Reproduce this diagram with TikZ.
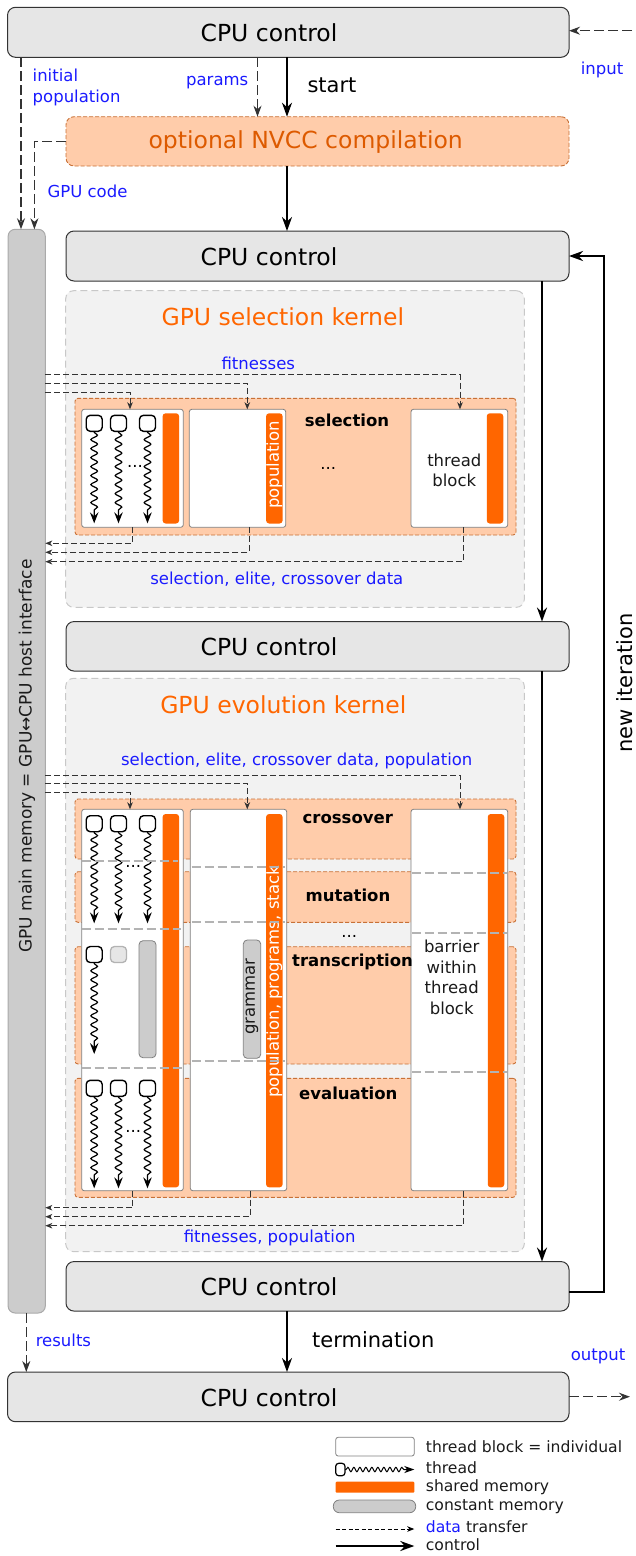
\documentclass[tikz,border=0pt]{standalone}
\usepackage{fontspec}
\setmainfont{DejaVu Sans}
\usetikzlibrary{arrows.meta,decorations.pathmorphing}
\definecolor{cpufill}{HTML}{E6E6E6}
\definecolor{cpuline}{HTML}{333333}
\definecolor{memfill}{HTML}{CCCCCC}
\definecolor{memline}{HTML}{AAAAAA}
\definecolor{panfill}{HTML}{F2F2F2}
\definecolor{panline}{HTML}{C8C8C8}
\definecolor{ofill}{HTML}{FFCCAA}
\definecolor{oline}{HTML}{C87137}
\definecolor{obar}{HTML}{FF6600}
\definecolor{otext}{HTML}{FF6600}
\definecolor{ntext}{HTML}{DD5A00}
\definecolor{dtext}{HTML}{1A1AFF}
\definecolor{dline}{HTML}{333333}
\definecolor{sepcol}{HTML}{B3B3B3}
\definecolor{blkline}{HTML}{808080}
\definecolor{txt}{HTML}{1A1A1A}
\newcommand\szBig{\fontsize{23.5}{28}\selectfont}
\newcommand\szMid{\fontsize{21}{25}\selectfont}
\newcommand\szLab{\fontsize{16.5}{20.7}\selectfont}
\newcommand\szLeg{\fontsize{15.6}{18}\selectfont}
\newcommand\szMem{\fontsize{17}{20}\selectfont}
\begin{document}
\begin{tikzpicture}[x=1pt,y=-1pt,
  box/.style={outer sep=0pt, inner sep=0pt},
  cpubox/.style={box, draw=cpuline, fill=cpufill, line width=1pt, rounded corners=8pt},
  membox/.style={box, draw=memline, fill=memfill, line width=1pt, rounded corners=7pt},
  panel/.style={box, draw=panline, fill=panfill, line width=1pt, dash pattern=on 7pt off 4pt, rounded corners=8pt},
  opanel/.style={box, draw=oline, fill=ofill, line width=0.9pt, dash pattern=on 4pt off 2pt, rounded corners=3pt},
  nvccbox/.style={opanel, rounded corners=8pt},
  blk/.style={box, draw=blkline, fill=white, line width=0.8pt, rounded corners=2.5pt},
  sbar/.style={box, fill=obar, rounded corners=3pt, minimum width=16.5pt},
  cmem/.style={box, draw=blkline, fill=memfill, line width=0.8pt, rounded corners=4pt},
  thr/.style={box, draw=black, fill=white, line width=1.4pt, rounded corners=4pt, minimum width=16pt, minimum height=16pt},
  thrghost/.style={box, draw=sepcol, fill=cpufill, line width=1.3pt, rounded corners=4pt, minimum width=16pt, minimum height=16pt},
  wave/.style={line width=1.2pt, -{Stealth[length=11pt,width=8.5pt,inset=4pt]}, decorate, decoration={snake, amplitude=3.3pt, segment length=9pt, post length=10pt, pre length=1pt}},
  sep/.style={draw=sepcol, line width=1.8pt, dash pattern=on 9pt off 4pt},
  dat/.style={draw=dline, line width=1pt, dash pattern=on 6pt off 3pt, -{Stealth[length=7pt,width=5.5pt,inset=2pt]}},
  datbig/.style={draw=dline, line width=1.3pt, dash pattern=on 10pt off 4pt, -{Stealth[length=11pt,width=8pt,inset=3.5pt]}},
  ctrl/.style={draw=black, line width=2pt, -{Stealth[length=14pt,width=10pt,inset=4.5pt]}},
  dlab/.style={text=dtext, font=\szLab, inner sep=0pt},
  blab/.style={text=black, font=\szLab\bfseries, inner sep=0pt},
  tlab/.style={text=txt, font=\szLab, inner sep=0pt, align=center},
  cpulab/.style={text=black, font=\szBig, inner sep=0pt},
  leglab/.style={text=txt, font=\szLeg, inner sep=0pt, anchor=west},
]
\useasboundingbox (0,0) rectangle (636,1556);

% ---------- CPU control boxes ----------
\node[cpubox, minimum width=561.5pt, minimum height=50pt] (cpuA) at (288.25,32.3) {};
\node[cpulab] (cpuAl) at (269,32.8) {CPU control};
\node[nvccbox, minimum width=503pt, minimum height=49.3pt] (nvcc) at (317.5,141.35) {};
\node[text=ntext, font=\szBig, inner sep=0pt] (nvccl) at (305.7,141.7) {optional NVCC compilation};
\node[cpubox, minimum width=503pt, minimum height=50pt] (cpuB) at (317.5,256) {};
\node[cpulab] (cpuBl) at (269,256.5) {CPU control};
\node[cpubox, minimum width=503pt, minimum height=49.5pt] (cpuC) at (317.5,646.3) {};
\node[cpulab] (cpuCl) at (269,646.8) {CPU control};
\node[cpubox, minimum width=503pt, minimum height=49.5pt] (cpuD) at (317.5,1286.3) {};
\node[cpulab] (cpuDl) at (269,1286.8) {CPU control};
\node[cpubox, minimum width=561.5pt, minimum height=49.7pt] (cpuE) at (288.25,1396.85) {};
\node[cpulab] (cpuEl) at (269,1397.3) {CPU control};

% ---------- GPU main memory column ----------
\node[membox, minimum width=37.2pt, minimum height=1083.7pt] (mem) at (26.7,771.15) {};
\node[text=txt, font=\szMem, inner sep=0pt, rotate=90] (meml) at (27,756) {GPU main memory = GPU↔CPU host interface};

% ---------- kernel panels ----------
\node[panel, minimum width=458.6pt, minimum height=316.6pt] (selp) at (295,449) {};
\node[text=otext, font=\szBig, inner sep=0pt] (selt) at (282.8,316.7) {GPU selection kernel};
\node[panel, minimum width=458.6pt, minimum height=573.4pt] (evop) at (295,965) {};
\node[text=otext, font=\szBig, inner sep=0pt] (evot) at (283.3,705) {GPU evolution kernel};

% ---------- selection kernel ----------
\node[opanel, minimum width=441pt, minimum height=136.7pt] (osel) at (295.5,466.65) {};
\node[blk, minimum width=101.6pt, minimum height=118pt] (sb1) at (132.5,468.3) {};
\node[blk, minimum width=96.4pt, minimum height=118pt] (sb2) at (237.5,468.3) {};
\node[blk, minimum width=96.7pt, minimum height=118pt] (sb3) at (459.35,468.3) {};
\node[sbar, minimum height=110.2pt] (sbar1) at (170.85,468.4) {};
\node[sbar, minimum height=110.2pt] (sbar2) at (274.35,468.4) {};
\node[sbar, minimum height=110.2pt] (sbar3) at (495,468.4) {};
\node[text=white, font=\szLab, inner sep=0pt, rotate=90] (popl) at (274.35,465) {population};
\coordinate (selTip) at (0,523.3);
\node[thr] (st1) at (94.2,423.3) {};
\node[thr] (st2) at (118.5,423.3) {};
\node[thr] (st3) at (147.5,423.3) {};
\draw[wave] (st1.south) -- (st1.south |- selTip);
\draw[wave] (st2.south) -- (st2.south |- selTip);
\draw[wave] (st3.south) -- (st3.south |- selTip);
\node[font=\szLab, inner sep=0pt] (sdots1) at (135,466) {...};
\node[blab] (sell) at (347,420) {selection};
\node[font=\szLab, inner sep=0pt] (sdots2) at (328.3,468) {...};
\node[tlab] (tbl) at (454.3,470.3) {thread\\block};

% data lines selection
\coordinate (sf1) at (0,374.3);
\coordinate (sf2) at (0,383.3);
\coordinate (sf3) at (0,392.3);
\coordinate (sr1) at (0,543.3);
\coordinate (sr2) at (0,552.3);
\coordinate (sr3) at (0,561.7);
\coordinate (xa) at (130,0);
\coordinate (xb) at (247.3,0);
\coordinate (xc) at (460,0);
\coordinate (xa2) at (132.7,0);
\coordinate (xb2) at (249.3,0);
\coordinate (xc2) at (463.3,0);
\draw[dat] (mem.east |- sf1) -| (sb3.north -| xc);
\draw[dat] (mem.east |- sf2) -| (sb2.north -| xb);
\draw[dat] (mem.east |- sf3) -| (sb1.north -| xa);
\draw[dat] (sb1.south -| xa2) |- (mem.east |- sr1);
\draw[dat] (sb2.south -| xb2) |- (mem.east |- sr2);
\draw[dat] (sb3.south -| xc2) |- (mem.east |- sr3);
\node[dlab] (fitl) at (258.3,363.3) {fitnesses};
\node[dlab] (secl) at (276.8,579.3) {selection, elite, crossover data};

% ---------- evolution kernel ----------
\node[opanel, minimum width=441pt, minimum height=60pt] (ocross) at (295.5,829) {};
\node[opanel, minimum width=441pt, minimum height=50.6pt] (omut) at (295.5,897) {};
\node[opanel, minimum width=441pt, minimum height=117.3pt] (otrans) at (295.5,1005.35) {};
\node[opanel, minimum width=441pt, minimum height=119pt] (oeval) at (295.5,1137.8) {};
\node[blk, minimum width=101.6pt, minimum height=381.4pt] (eb1) at (132.5,1000) {};
\node[blk, minimum width=96.4pt, minimum height=381.4pt] (eb2) at (238.5,1000) {};
\node[blk, minimum width=96.7pt, minimum height=381.4pt] (eb3) at (459.35,1000) {};
\node[sbar, minimum height=373.3pt] (ebar1) at (170.85,1000.65) {};
\node[sbar, minimum height=373.3pt] (ebar2) at (274.35,1000.65) {};
\node[sbar, minimum height=373.3pt] (ebar3) at (496,1000.65) {};
\node[text=white, font=\szLab, inner sep=0pt, rotate=90] (ppsl) at (274.35,982) {population, programs, stack};
\node[cmem, minimum width=17.4pt, minimum height=118.3pt] (gram) at (252,999.15) {};
\node[text=txt, font=\szLab, inner sep=0pt, rotate=90] (graml) at (252,996.7) {grammar};

% threads group 1
\coordinate (eTip1) at (0,923.3);
\node[thr] (et1) at (94.2,823.7) {};
\node[thr] (et2) at (118.5,823.7) {};
\node[thr] (et3) at (147.5,823.7) {};
\draw[wave] (et1.south) -- (et1.south |- eTip1);
\draw[wave] (et2.south) -- (et2.south |- eTip1);
\draw[wave] (et3.south) -- (et3.south |- eTip1);
\node[font=\szLab, inner sep=0pt] (edots1) at (133.3,866.7) {...};
% threads group 2
\coordinate (eTip2) at (0,1054);
\node[thr] (et4) at (94.2,954.5) {};
\node[thrghost] (et5) at (118.5,954.5) {};
\node[cmem, minimum width=17pt, minimum height=117pt] (ecm) at (147.5,999.2) {};
\draw[wave] (et4.south) -- (et4.south |- eTip2);
% threads group 3
\coordinate (eTip3) at (0,1188.3);
\node[thr] (et6) at (94.2,1088.3) {};
\node[thr] (et7) at (118.5,1088.3) {};
\node[thr] (et8) at (147.5,1088.3) {};
\draw[wave] (et6.south) -- (et6.south |- eTip3);
\draw[wave] (et7.south) -- (et7.south |- eTip3);
\draw[wave] (et8.south) -- (et8.south |- eTip3);
\node[font=\szLab, inner sep=0pt] (edots3) at (133.3,1131.7) {...};

% barriers (separators)
\draw[sep] (81.7,861) -- (178.3,861);
\draw[sep] (81.7,929) -- (181,929);
\draw[sep] (81.7,1067.7) -- (183.3,1067.7);
\draw[sep] (191.7,866.7) -- (285,866.7);
\draw[sep] (191.7,921.7) -- (285,921.7);
\draw[sep] (191.7,1061) -- (285,1061);
\draw[sep] (411.7,872.7) -- (506.7,872.7);
\draw[sep] (411.7,933.3) -- (506.7,933.3);
\draw[sep] (411.7,1071.7) -- (506.7,1071.7);

\node[blab] (crossl) at (347.8,819.3) {crossover};
\node[blab] (mutl) at (348,895.7) {mutation};
\node[font=\szLab, inner sep=0pt] (edots2) at (349.3,936.7) {...};
\node[blab] (transl) at (352.5,961.7) {transcription};
\node[blab] (evall) at (348.3,1093.3) {evaluation};
\node[tlab] (barl) at (451.7,977.3) {barrier\\within\\thread\\block};

% data lines evolution
\coordinate (ef1) at (0,775);
\coordinate (ef2) at (0,783.3);
\coordinate (ef3) at (0,792.3);
\coordinate (er1) at (0,1207.7);
\coordinate (er2) at (0,1216.7);
\coordinate (er3) at (0,1225.7);
\coordinate (xe2) at (250,0);
\draw[dat] (mem.east |- ef1) -| (eb3.north -| xc);
\draw[dat] (mem.east |- ef2) -| (eb2.north -| xb);
\draw[dat] (mem.east |- ef3) -| (eb1.north -| xa);
\draw[dat] (eb1.south -| xa2) |- (mem.east |- er1);
\draw[dat] (eb2.south -| xe2) |- (mem.east |- er2);
\draw[dat] (eb3.south -| xc2) |- (mem.east |- er3);
\node[dlab] (sepl) at (296.7,760.7) {selection, elite, crossover data, population};
\node[dlab] (fpl) at (269.7,1238.3) {fitnesses, population};

% ---------- top connectors ----------
\coordinate (xip) at (21,0);
\coordinate (xgc) at (34.4,0);
\coordinate (xpa) at (257.5,0);
\coordinate (xst) at (287,0);
\coordinate (xrt) at (542,0);
\coordinate (xloop) at (604.3,0);
\coordinate (inS) at (632,30.7);
\coordinate (outE) at (630,1396.7);
\draw[datbig] (cpuA.south -| xip) -- (mem.north -| xip);
\draw[datbig] (nvcc.west) -| (mem.north -| xgc);
\draw[datbig] (cpuA.south -| xpa) -- (nvcc.north -| xpa);
\draw[ctrl] (cpuA.south -| xst) -- (nvcc.north -| xst);
\draw[ctrl] (nvcc.south -| xst) -- (cpuB.north -| xst);
\draw[datbig] (inS) -- (cpuA.east |- inS);
\node[dlab, anchor=west, align=left] (ipl) at (32.5,87.3) {initial\\population};
\node[dlab] (pal) at (217.2,82.7) {params};
\node[text=black, font=\szMid, inner sep=0pt] (stl) at (332,85) {start};
\node[dlab, anchor=west] (gcl) at (47.4,191) {GPU code};
\node[dlab] (inl) at (602,70) {input};

% ---------- right control flow ----------
\draw[ctrl] (cpuB.south -| xrt) -- (cpuC.north -| xrt);
\draw[ctrl] (cpuC.south -| xrt) -- (cpuD.north -| xrt);
\coordinate (lpS) at (569,1292);
\coordinate (lpE) at (569,256);
\draw[ctrl, line width=2.3pt] (cpuD.east |- lpS) -| (xloop |- lpE) -- (cpuB.east |- lpE);
\node[text=black, font=\szMid, inner sep=0pt, rotate=90] (nil) at (625,683) {new iteration};

% ---------- bottom ----------
\coordinate (xres) at (26.3,0);
\draw[datbig] (mem.south -| xres) -- (cpuE.north -| xres);
\draw[ctrl] (cpuD.south -| xst) -- (cpuE.north -| xst);
\draw[datbig] (cpuE.east |- outE) -- (outE);
\node[dlab, anchor=west] (resl) at (35.6,1340) {results};
\node[text=black, font=\szMid, inner sep=0pt, anchor=west] (terml) at (312,1340) {termination};
\node[dlab] (outl) at (598,1356.7) {output};

% ---------- legend ----------
\node[blk, minimum width=78.6pt, minimum height=18.7pt] (lg1) at (375,1446.65) {};
\node[leglab] (lg1l) at (425.7,1446.7) {thread block = individual};
\node[thr, minimum width=9.3pt, minimum height=12.4pt, rounded corners=3pt, line width=1.2pt] (lg2) at (340.35,1469.5) {};
\coordinate (lg2e) at (414.3,1469.5);
\draw[line width=1pt, -{Stealth[length=10pt,width=7pt,inset=3pt]}, decorate, decoration={snake, amplitude=2.2pt, segment length=6pt, post length=10pt, pre length=1pt}] (lg2.east) -- (lg2e);
\node[leglab] (lg2l) at (425.7,1467.3) {thread};
\node[sbar, minimum width=78.6pt, minimum height=11pt, rounded corners=1pt] (lg3) at (375,1487.2) {};
\node[leglab] (lg3l) at (425.7,1486.7) {shared memory};
\node[cmem, minimum width=82.4pt, minimum height=12.7pt, rounded corners=6pt] (lg4) at (374.5,1506.35) {};
\node[leglab] (lg4l) at (425.7,1506.7) {constant memory};
\coordinate (lg5a) at (335.7,1529);
\coordinate (lg5b) at (414.3,1529);
\draw[draw=black, line width=1pt, dash pattern=on 4pt off 2.5pt, -{Stealth[length=7pt,width=5.5pt,inset=2pt]}] (lg5a) -- (lg5b);
\node[leglab] (lg5l) at (425.7,1526.7) {{\color{dtext}data} transfer};
\coordinate (lg6a) at (335.7,1546);
\coordinate (lg6b) at (414.3,1546);
\draw[ctrl] (lg6a) -- (lg6b);
\node[leglab] (lg6l) at (425.7,1545) {control};
\end{tikzpicture}
\end{document}
